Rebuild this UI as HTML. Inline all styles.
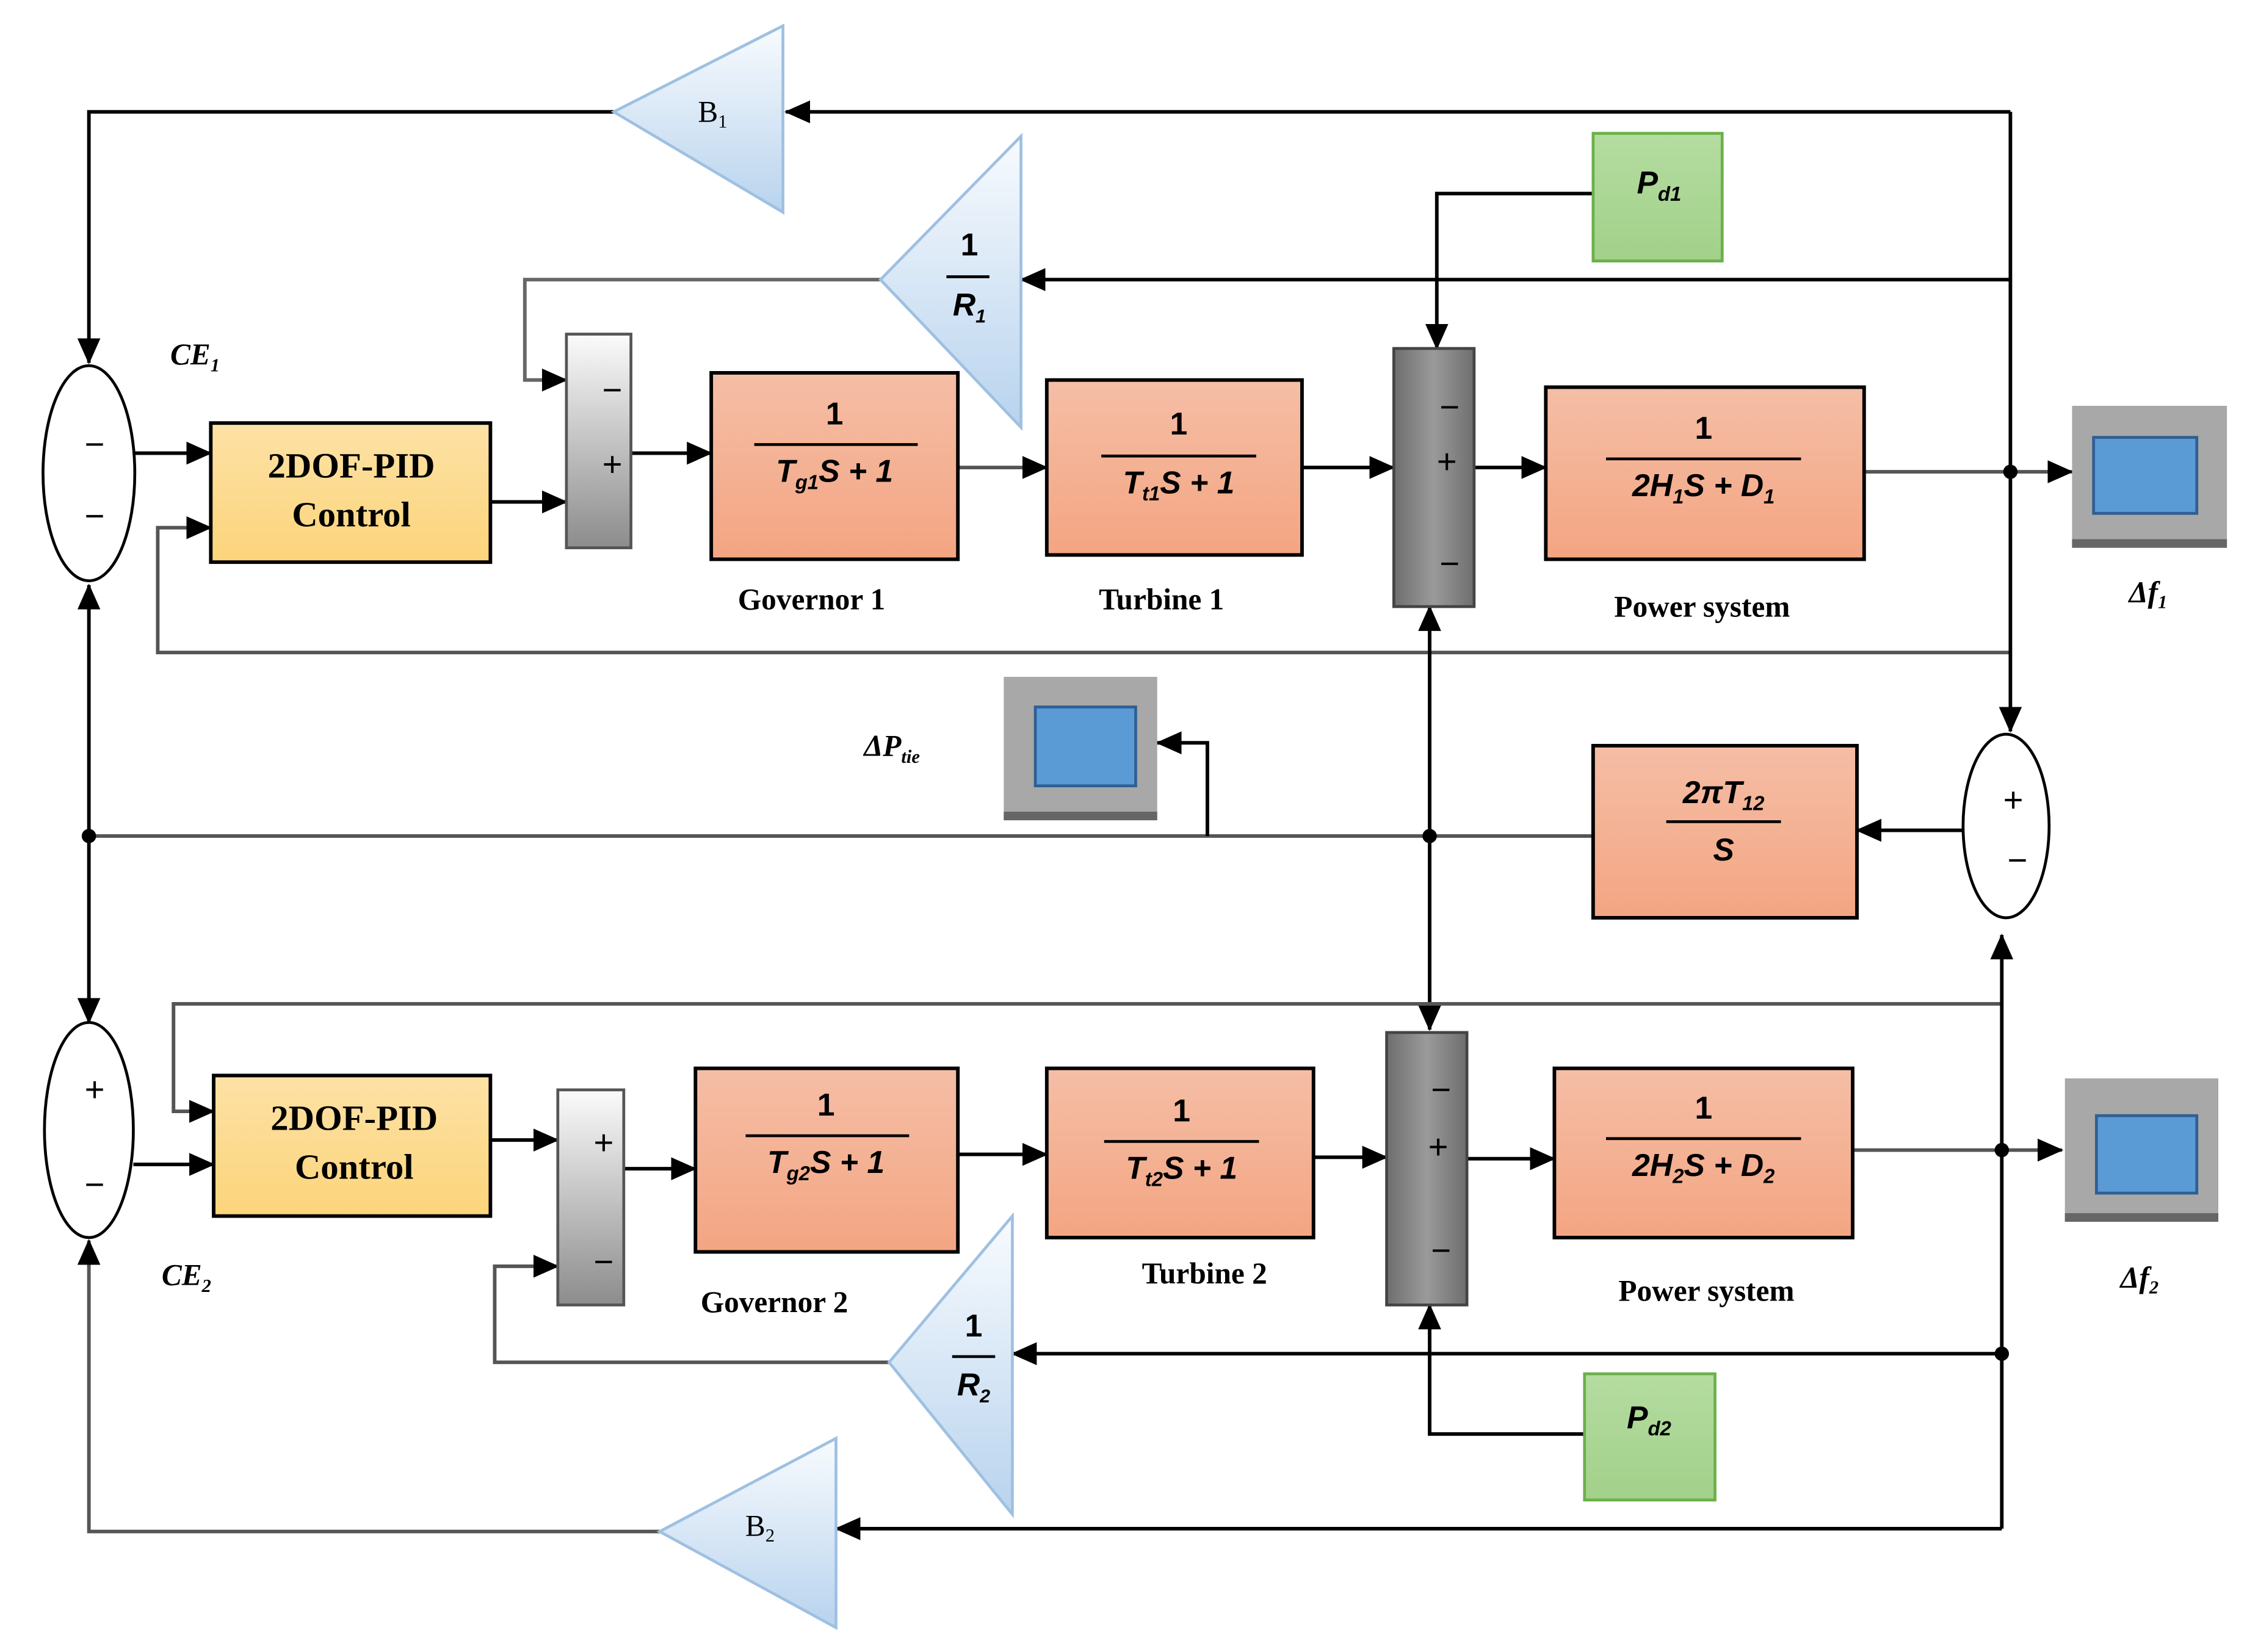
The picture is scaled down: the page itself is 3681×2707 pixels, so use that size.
<!DOCTYPE html>
<html><head><meta charset="utf-8"><style>html,body{margin:0;padding:0;background:#fff}svg{display:block}</style></head>
<body>
<svg width="3681" height="2707" viewBox="0 0 1567 1152" preserveAspectRatio="none" xmlns="http://www.w3.org/2000/svg" font-family="Liberation Serif, serif">
<defs>
<marker id="A" markerWidth="18" markerHeight="18" refX="17" refY="9" orient="auto" markerUnits="userSpaceOnUse" viewBox="0 0 18 18"><path d="M0,1 L18,9 L0,17 z" fill="#000"/></marker>
<linearGradient id="sal" x1="0" y1="0" x2="0" y2="1"><stop offset="0" stop-color="#f5bea6"/><stop offset="1" stop-color="#f4a582"/></linearGradient>
<linearGradient id="yel" x1="0" y1="0" x2="0" y2="1"><stop offset="0" stop-color="#fde2a6"/><stop offset="1" stop-color="#fcd47a"/></linearGradient>
<linearGradient id="tri" x1="0" y1="0" x2="0" y2="1"><stop offset="0" stop-color="#f8fbfe"/><stop offset="1" stop-color="#b8d3ee"/></linearGradient>
<linearGradient id="sumL" x1="0" y1="0" x2="0" y2="1"><stop offset="0" stop-color="#fbfbfb"/><stop offset="1" stop-color="#8c8c8c"/></linearGradient>
<linearGradient id="sumD" x1="0" y1="0" x2="1" y2="0"><stop offset="0" stop-color="#6e6e6e"/><stop offset="0.5" stop-color="#9a9a9a"/><stop offset="1" stop-color="#6e6e6e"/></linearGradient>
<linearGradient id="grn" x1="0" y1="0" x2="0" y2="1"><stop offset="0" stop-color="#b4dca0"/><stop offset="1" stop-color="#a2d18a"/></linearGradient>
</defs>
<g fill="none" stroke="#000" stroke-width="2.5">
<polyline points="1402,78 548,78" marker-end="url(#A)"/>
<polyline points="428,78 62,78 62,253" marker-end="url(#A)"/>
<polyline points="1402,195 712,195" marker-end="url(#A)"/>
<polyline points="614,195 366,195 366,265 395,265" stroke="#666" marker-end="url(#A)"/>
<polyline points="94,316 147,316" marker-end="url(#A)"/>
<polyline points="342,350 395,350" marker-end="url(#A)"/>
<polyline points="1402,455 110,455 110,368 147,368" stroke="#555" marker-end="url(#A)"/>
<polyline points="440,316 496,316" marker-end="url(#A)"/>
<polyline points="668,326 730,326" stroke="#555" marker-end="url(#A)"/>
<polyline points="908,326 972,326" marker-end="url(#A)"/>
<polyline points="1111,135 1002,135 1002,243" marker-end="url(#A)"/>
<polyline points="1028,326 1078,326" marker-end="url(#A)"/>
<polyline points="1300,329 1445,329" stroke="#555" marker-end="url(#A)"/>
<polyline points="1402,78 1402,510" marker-end="url(#A)"/>
<polyline points="1369,579 1295,579" marker-end="url(#A)"/>
<polyline points="1111,583 62,583" stroke="#555"/>
<polyline points="997,583 997,423" marker-end="url(#A)"/>
<polyline points="997,583 997,718" marker-end="url(#A)"/>
<polyline points="62,583 62,408" marker-end="url(#A)"/>
<polyline points="62,583 62,713" marker-end="url(#A)"/>
<polyline points="842,583 842,518 807,518" marker-end="url(#A)"/>
<polyline points="1396,700 121,700 121,775 149,775" stroke="#555" marker-end="url(#A)"/>
<polyline points="93,812 149,812" marker-end="url(#A)"/>
<polyline points="342,795 389,795" marker-end="url(#A)"/>
<polyline points="620,950 345,950 345,883 389,883" stroke="#555" marker-end="url(#A)"/>
<polyline points="435,815 485,815" marker-end="url(#A)"/>
<polyline points="668,805 730,805" marker-end="url(#A)"/>
<polyline points="916,807 967,807" marker-end="url(#A)"/>
<polyline points="1023,808 1084,808" marker-end="url(#A)"/>
<polyline points="1292,802 1438,802" stroke="#555" marker-end="url(#A)"/>
<polyline points="1396,1066 1396,652" marker-end="url(#A)"/>
<polyline points="1396,944 706,944" marker-end="url(#A)"/>
<polyline points="1105,1000 997,1000 997,910" marker-end="url(#A)"/>
<polyline points="1396,1066 583,1066" marker-end="url(#A)"/>
<polyline points="460,1068 62,1068 62,865" stroke="#555" marker-end="url(#A)"/>
</g>
<g fill="#000">
<circle cx="1402" cy="329" r="5"/><circle cx="997" cy="583" r="5"/><circle cx="62" cy="583" r="5"/>
<circle cx="1396" cy="802" r="5"/><circle cx="1396" cy="944" r="5"/>
</g>
<g fill="#fff" stroke="#000" stroke-width="2">
<ellipse cx="62" cy="330" rx="32" ry="75"/>
<ellipse cx="62" cy="788" rx="31" ry="75"/>
<ellipse cx="1399" cy="576" rx="30" ry="64"/>
</g>
<g fill="url(#tri)" stroke="#9ec0e2" stroke-width="2">
<polygon points="428,78 546,18 546,148"/>
<polygon points="614,195 712,95 712,298"/>
<polygon points="620,950 706,848 706,1056"/>
<polygon points="460,1068 583,1003 583,1135"/>
</g>
<rect x="395" y="233" width="45" height="149" fill="url(#sumL)" stroke="#555" stroke-width="2"/>
<rect x="389" y="760" width="46" height="150" fill="url(#sumL)" stroke="#555" stroke-width="2"/>
<rect x="972" y="243" width="56" height="180" fill="url(#sumD)" stroke="#444" stroke-width="2"/>
<rect x="967" y="720" width="56" height="190" fill="url(#sumD)" stroke="#444" stroke-width="2"/>
<g stroke="#000" stroke-width="2.5">
<rect x="147" y="295" width="195" height="97" fill="url(#yel)"/>
<rect x="149" y="750" width="193" height="98" fill="url(#yel)"/>
<rect x="496" y="260" width="172" height="130" fill="url(#sal)"/>
<rect x="730" y="265" width="178" height="122" fill="url(#sal)"/>
<rect x="1078" y="270" width="222" height="120" fill="url(#sal)"/>
<rect x="1111" y="520" width="184" height="120" fill="url(#sal)"/>
<rect x="485" y="745" width="183" height="128" fill="url(#sal)"/>
<rect x="730" y="745" width="186" height="118" fill="url(#sal)"/>
<rect x="1084" y="745" width="208" height="118" fill="url(#sal)"/>
</g>
<rect x="1111" y="93" width="90" height="89" fill="url(#grn)" stroke="#6bb04a" stroke-width="2"/>
<rect x="1105" y="958" width="91" height="88" fill="url(#grn)" stroke="#6bb04a" stroke-width="2"/>
<rect x="1445" y="283" width="108" height="99" fill="#a8a8a8"/><rect x="1445" y="376" width="108" height="6" fill="#666"/>
<rect x="1460" y="305" width="72" height="53" fill="#5b9bd5" stroke="#2e5f93" stroke-width="2"/>
<rect x="1440" y="752" width="107" height="100" fill="#a8a8a8"/><rect x="1440" y="846" width="107" height="6" fill="#666"/>
<rect x="1462" y="778" width="70" height="54" fill="#5b9bd5" stroke="#2e5f93" stroke-width="2"/>
<rect x="700" y="472" width="107" height="100" fill="#a8a8a8"/><rect x="700" y="566" width="107" height="6" fill="#666"/>
<rect x="722" y="493" width="70" height="55" fill="#5b9bd5" stroke="#2e5f93" stroke-width="2"/>
<g stroke="#000" stroke-width="2">
<line x1="526" y1="310" x2="640" y2="310"/><line x1="768" y1="318" x2="876" y2="318"/>
<line x1="1120" y1="320" x2="1256" y2="320"/><line x1="1162" y1="573" x2="1242" y2="573"/>
<line x1="520" y1="792" x2="634" y2="792"/><line x1="770" y1="796" x2="878" y2="796"/>
<line x1="1120" y1="794" x2="1256" y2="794"/>
<line x1="660" y1="193" x2="690" y2="193"/><line x1="664" y1="946" x2="694" y2="946"/>
</g>
<g font-weight="bold" fill="#000" text-anchor="middle">
<text x="245" y="333" font-size="25">2DOF-PID</text><text x="245" y="367" font-size="25">Control</text>
<text x="247" y="788" font-size="25">2DOF-PID</text><text x="247" y="822" font-size="25">Control</text>
<g font-family="Liberation Sans, sans-serif" font-size="22">
<text x="582" y="296">1</text><text x="582" y="336" font-style="italic">T<tspan font-size="14" dy="5">g1</tspan><tspan dy="-5">S + 1</tspan></text>
<text x="822" y="303">1</text><text x="822" y="344" font-style="italic">T<tspan font-size="14" dy="5">t1</tspan><tspan dy="-5">S + 1</tspan></text>
<text x="1188" y="306">1</text><text x="1188" y="346" font-style="italic">2H<tspan font-size="14" dy="5">1</tspan><tspan dy="-5">S + D</tspan><tspan font-size="14" dy="5">1</tspan></text>
<text x="1202" y="560" font-style="italic">2πT<tspan font-size="14" dy="5">12</tspan></text><text x="1202" y="600" font-style="italic">S</text>
<text x="576" y="778">1</text><text x="576" y="818" font-style="italic">T<tspan font-size="14" dy="5">g2</tspan><tspan dy="-5">S + 1</tspan></text>
<text x="824" y="782">1</text><text x="824" y="822" font-style="italic">T<tspan font-size="14" dy="5">t2</tspan><tspan dy="-5">S + 1</tspan></text>
<text x="1188" y="780">1</text><text x="1188" y="820" font-style="italic">2H<tspan font-size="14" dy="5">2</tspan><tspan dy="-5">S + D</tspan><tspan font-size="14" dy="5">2</tspan></text>
<text x="676" y="178">1</text><text x="676" y="220" font-style="italic">R<tspan font-size="13" dy="5">1</tspan></text>
<text x="679" y="932">1</text><text x="679" y="973" font-style="italic">R<tspan font-size="13" dy="5">2</tspan></text>
<text x="1157" y="135" font-style="italic">P<tspan font-size="14" dy="5">d1</tspan></text>
<text x="1150" y="996" font-style="italic">P<tspan font-size="14" dy="5">d2</tspan></text>
</g>
<g font-size="21">
<text x="566" y="425">Governor 1</text><text x="810" y="425">Turbine 1</text><text x="1187" y="430">Power system</text>
<text x="540" y="915">Governor 2</text><text x="840" y="895">Turbine 2</text><text x="1190" y="907">Power system</text>
<text x="497" y="85" font-weight="normal">B<tspan font-size="13" dy="4">1</tspan></text>
<text x="530" y="1071" font-weight="normal">B<tspan font-size="13" dy="4">2</tspan></text>
</g>
<g font-style="italic" font-size="21">
<text x="136" y="254">CE<tspan font-size="13" dy="5">1</tspan></text>
<text x="130" y="896">CE<tspan font-size="13" dy="5">2</tspan></text>
<text x="622" y="527">ΔP<tspan font-size="13" dy="5">tie</tspan></text>
<text x="1498" y="420">Δf<tspan font-size="13" dy="4">1</tspan></text>
<text x="1492" y="898">Δf<tspan font-size="13" dy="4">2</tspan></text>
</g>
</g>
<g font-family="Liberation Sans, sans-serif" font-size="24" fill="#000" text-anchor="middle">
<text x="66" y="318">−</text><text x="66" y="368">−</text>
<text x="66" y="768">+</text><text x="66" y="834">−</text>
<text x="1404" y="566">+</text><text x="1407" y="608">−</text>
<text x="427" y="280">−</text><text x="427" y="332">+</text>
<text x="421" y="805">+</text><text x="421" y="888">−</text>
<text x="1011" y="292">−</text><text x="1009" y="330">+</text><text x="1011" y="401">−</text>
<text x="1005" y="768">−</text><text x="1003" y="808">+</text><text x="1005" y="880">−</text>
</g>
</svg>
</body></html>
